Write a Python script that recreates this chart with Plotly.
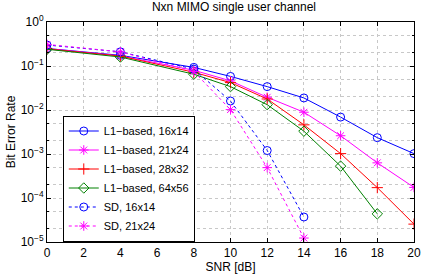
import plotly.graph_objects as go

snr_l1 = [0, 4, 8, 10, 12, 14, 16, 18, 20]
snr_l1_64 = [0, 4, 8, 10, 12, 14, 16, 18]
snr_sd = [0, 4, 8, 10, 12, 14]

ber_l1_16x14 = [0.25, 0.175, 0.093, 0.058, 0.034, 0.0188, 0.0069, 0.00235, 0.00102]
ber_l1_21x24 = [0.25, 0.17, 0.080, 0.046, 0.0195, 0.0089, 0.0026, 0.00063, 0.000174]
ber_l1_28x32 = [0.245, 0.168, 0.072, 0.042, 0.0178, 0.0046, 0.00102, 0.000172, 0.0000255]
ber_l1_64x56 = [0.24, 0.16, 0.065, 0.034, 0.0132, 0.0033, 0.00053, 0.0000436]
ber_sd_16x14 = [0.30, 0.21, 0.085, 0.016, 0.0012, 0.000037]
ber_sd_21x24 = [0.31, 0.21, 0.075, 0.0102, 0.00049, 0.0000123]

names = ["L1\u2212based, 16x14", "L1\u2212based, 21x24", "L1\u2212based, 28x32",
         "L1\u2212based, 64x56", "SD, 16x14", "SD, 21x24"]

yvals = [1e-5, 1e-4, 1e-3, 1e-2, 1e-1, 1]
ytext = ["10<sup>\u22125</sup>", "10<sup>\u22124</sup>", "10<sup>\u22123</sup>",
         "10<sup>\u22122</sup>", "10<sup>\u22121</sup>", "10<sup>0</sup>"]

blue = "#0000ff"
mag = "#ff00ff"
red = "#ff0000"
green = "#008000"

fig = go.Figure()

def add(x, y, name, color, symbol, dash="solid"):
    fig.add_trace(go.Scatter(
        x=x, y=y, name=name, mode="lines+markers",
        line=dict(color=color, width=1, dash=dash),
        marker=dict(symbol=symbol, size=8, color=color,
                    line=dict(color=color, width=1)),
    ))

add(snr_l1, ber_l1_16x14, names[0], blue, "circle-open")
add(snr_l1, ber_l1_21x24, names[1], mag, "asterisk-open")
add(snr_l1, ber_l1_28x32, names[2], red, "cross-thin-open")
add(snr_l1_64, ber_l1_64x56, names[3], green, "diamond-open")
add(snr_sd, ber_sd_16x14, names[4], blue, "circle-open", dash="3px,3px")
add(snr_sd, ber_sd_21x24, names[5], mag, "asterisk-open", dash="3px,3px")

font = "Liberation Sans, Arial, Helvetica, sans-serif"

fig.update_layout(
    width=427, height=275,
    margin=dict(l=47, r=6, t=22, b=31),
    paper_bgcolor="white", plot_bgcolor="white",
    font=dict(family=font, size=12, color="black"),
    title=dict(text="Nxn MIMO single user channel", x=(47 + 421) / 2 / 427,
               xanchor="center", y=1 - 3 / 275, yanchor="top",
               font=dict(size=12)),
    showlegend=True,
    legend=dict(x=0.043, y=0.575, xanchor="left", yanchor="top",
                bgcolor="white", bordercolor="black", borderwidth=1,
                font=dict(size=11), itemwidth=30, tracegroupgap=0),
)

fig.update_xaxes(
    range=[0, 20], dtick=2, tick0=0,
    showline=True, linecolor="black", linewidth=1, mirror="ticks",
    ticks="inside", ticklen=4, tickcolor="black",
    showgrid=True, gridcolor="#c8c8c8", griddash="dot", gridwidth=1,
    zeroline=False,
    title=dict(text="SNR [dB]", standoff=0, font=dict(size=12)),
)
fig.update_yaxes(
    type="log", range=[-5, 0],
    tickvals=yvals, ticktext=ytext,
    showline=True, linecolor="black", linewidth=1, mirror="ticks",
    ticks="inside", ticklen=4, tickcolor="black",
    showgrid=True, gridcolor="#c8c8c8", griddash="dot", gridwidth=1,
    minor=dict(ticks="inside", ticklen=2, tickcolor="black", showgrid=True,
               gridcolor="#c8c8c8", griddash="dot", gridwidth=1),
    zeroline=False,
    title=dict(text="Bit Error Rate", standoff=2, font=dict(size=12)),
)

fig.write_html("out.html", config={"displayModeBar": False},
               post_script="document.body.style.margin='0';")
